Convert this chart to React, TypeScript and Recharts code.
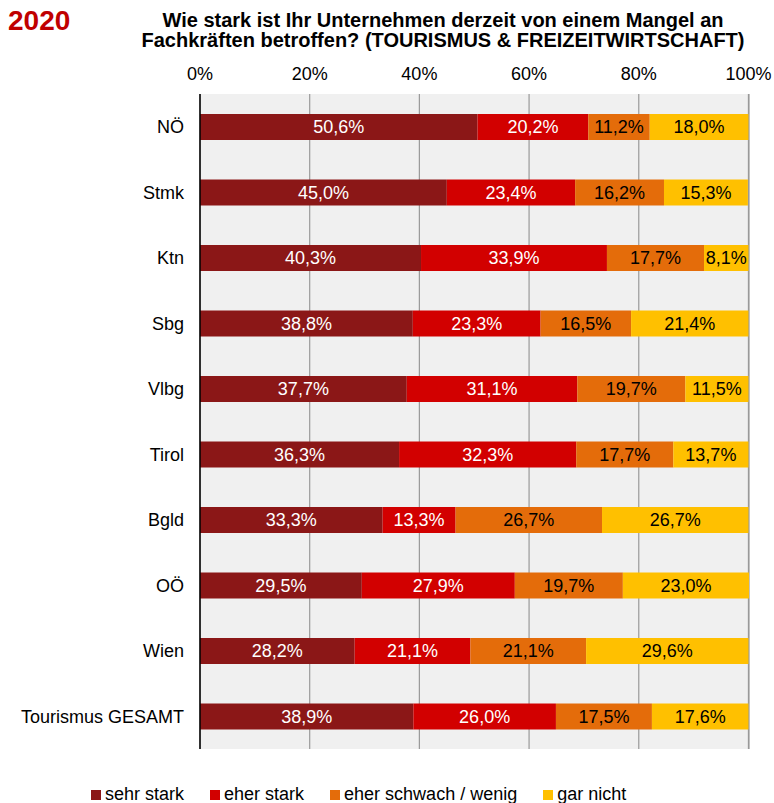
import { BarChart, Bar, XAxis, YAxis, CartesianGrid, LabelList } from "recharts";

const regions = ["NÖ", "Stmk", "Ktn", "Sbg", "Vlbg", "Tirol", "Bgld", "OÖ", "Wien", "Tourismus GESAMT"];
const sehrStark = [50.6, 45.0, 40.3, 38.8, 37.7, 36.3, 33.3, 29.5, 28.2, 38.9];
const eherStark = [20.2, 23.4, 33.9, 23.3, 31.1, 32.3, 13.3, 27.9, 21.1, 26.0];
const eherSchwach = [11.2, 16.2, 17.7, 16.5, 19.7, 17.7, 26.7, 19.7, 21.1, 17.5];
const garNicht = [18.0, 15.3, 8.1, 21.4, 11.5, 13.7, 26.7, 23.0, 29.6, 17.6];
const percentTicks = [0, 20, 40, 60, 80, 100];
const bandEdges = [0, 1, 2, 3, 4, 5, 6, 7, 8, 9, 10];

const series = [
  { key: "sehrStark", name: "sehr stark", color: "#8b1717", text: "#ffffff" },
  { key: "eherStark", name: "eher stark", color: "#d20000", text: "#ffffff" },
  { key: "eherSchwach", name: "eher schwach / wenig", color: "#e46c0a", text: "#000000" },
  { key: "garNicht", name: "gar nicht", color: "#ffc000", text: "#000000" },
];

const data = regions.map((r, i) => ({
  region: r,
  sehrStark: sehrStark[i],
  eherStark: eherStark[i],
  eherSchwach: eherSchwach[i],
  garNicht: garNicht[i],
}));

const FONT = '"Liberation Sans", Arial, sans-serif';
const fmt = (v: any) => Number(v).toFixed(1).replace(".", ",") + "%";

export default function App() {
  return (
    <div style={{ position: "absolute", left: 0, top: 0, width: 774, height: 803, fontFamily: FONT, background: "#fff" }}>
      <div style={{ position: "absolute", left: 8, top: 5, fontSize: 28, fontWeight: "bold", color: "#c00000" }}>2020</div>
      <div
        style={{
          position: "absolute", left: 100, width: 686, top: 10, textAlign: "center",
          fontSize: 20, fontWeight: "bold", lineHeight: "20px", color: "#000",
        }}
      >
        Wie stark ist Ihr Unternehmen derzeit von einem Mangel an
        <br />
        Fachkräften betroffen? (TOURISMUS &amp; FREIZEITWIRTSCHAFT)
      </div>
      <BarChart
        width={774}
        height={803}
        data={data}
        layout="vertical"
        margin={{ top: 64, right: 25, bottom: 54, left: 0 }}
        barCategoryGap={0}
        style={{ fontFamily: FONT }}
      >
        <CartesianGrid horizontal={false} fill="#f0f0f0" stroke="#9a9a9a" strokeWidth={1.2} />
        <XAxis
          type="number"
          orientation="top"
          domain={[0, 100]}
          ticks={percentTicks}
          tickFormatter={(v) => `${v}%`}
          height={30}
          axisLine={false}
          tickLine={false}
          tickSize={14}
          tickMargin={0}
          tick={{ fontSize: 18, fill: "#000" }}
          interval={0}
        />
        <YAxis
          type="category"
          dataKey="region"
          width={200}
          axisLine={{ stroke: "#000", strokeWidth: 1.5 }}
          tickLine={false}
          tickSize={6}
          tickMargin={10}
          tick={{ fontSize: 18, fill: "#000" }}
          interval={0}
        />
        <YAxis
          yAxisId="edges"
          type="number"
          domain={[0, 10]}
          ticks={bandEdges}
          width={0}
          tick={false}
          tickSize={6}
          axisLine={false}
          tickLine={{ stroke: "#000", strokeWidth: 1.5 }}
        />
        {series.map((s) => (
          <Bar
            key={s.key}
            dataKey={s.key}
            name={s.name}
            stackId="a"
            fill={s.color}
            barSize={26}
            isAnimationActive={false}
          >
            <LabelList
              dataKey={s.key}
              position="center"
              formatter={fmt}
              style={{ fontSize: 18, fill: s.text, fontFamily: FONT }}
            />
          </Bar>
        ))}
      </BarChart>
      <div
        style={{
          position: "absolute", left: 91, top: 784, display: "flex", alignItems: "center",
          fontSize: 18, color: "#000", whiteSpace: "nowrap",
        }}
      >
        {series.map((s) => (
          <div key={s.key} style={{ display: "flex", alignItems: "center", marginRight: 26 }}>
            <span style={{ display: "inline-block", width: 10, height: 10, background: s.color, marginRight: 4 }} />
            <span>{s.name}</span>
          </div>
        ))}
      </div>
    </div>
  );
}
